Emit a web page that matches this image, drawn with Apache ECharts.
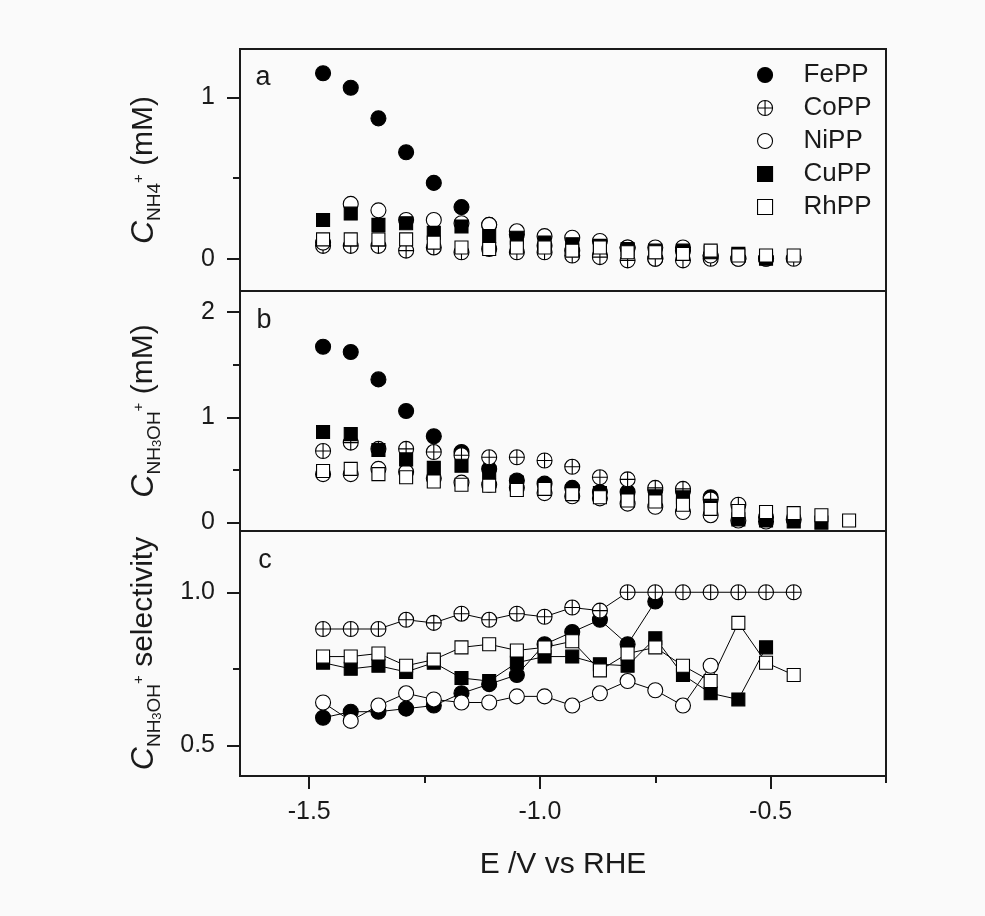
<!DOCTYPE html>
<html>
<head>
<meta charset="utf-8">
<title>NH4+ / NH3OH+ vs potential</title>
<script src="https://cdn.jsdelivr.net/npm/echarts@6/dist/echarts.min.js"></script>
<style>
  html, body { margin: 0; padding: 0; background: #fafafa; }
  #main { width: 985px; height: 916px; }
</style>
</head>
<body>
<div id="main"></div>
<script>
// potentials (V vs RHE), one value every 60 mV
var potential = [-1.47, -1.41, -1.35, -1.29, -1.23, -1.17, -1.11, -1.05, -0.99, -0.93,
                 -0.87, -0.81, -0.75, -0.69, -0.63, -0.57, -0.51, -0.45, -0.39, -0.33];
var catalysts = ['FePP', 'CoPP', 'NiPP', 'CuPP', 'RhPP'];

// panel a: C NH4+ (mM)
var feNH4 = [1.15, 1.06, 0.87, 0.66, 0.47, 0.32, 0.21, 0.15, 0.08, 0.05, 0.02, 0.07, 0.00, 0.05, 0.02];
var coNH4 = [0.08, 0.08, 0.08, 0.05, 0.07, 0.04, 0.06, 0.04, 0.04, 0.02, 0.01, -0.01, 0.00, -0.01, 0.00, 0.00, 0.00, 0.00];
var niNH4 = [0.10, 0.34, 0.30, 0.24, 0.24, 0.22, 0.21, 0.17, 0.14, 0.13, 0.11, 0.07, 0.07, 0.07, 0.02, 0.00, 0.00];
var cuNH4 = [0.24, 0.28, 0.21, 0.22, 0.16, 0.20, 0.14, 0.13, 0.10, 0.09, 0.08, 0.06, 0.05, 0.05, 0.04, 0.03, 0.00];
var rhNH4 = [0.12, 0.12, 0.12, 0.12, 0.10, 0.07, 0.06, 0.07, 0.07, 0.05, 0.07, 0.04, 0.04, 0.03, 0.05, 0.02, 0.02, 0.02];

// panel b: C NH3OH+ (mM)
var feNH3OH = [1.67, 1.62, 1.36, 1.06, 0.82, 0.67, 0.51, 0.40, 0.37, 0.33, 0.29, 0.29, 0.31, 0.30, 0.24];
var coNH3OH = [0.68, 0.76, 0.70, 0.70, 0.67, 0.64, 0.62, 0.62, 0.59, 0.53, 0.43, 0.41, 0.33, 0.32, 0.22, 0.17, 0.05, 0.03];
var niNH3OH = [0.46, 0.46, 0.51, 0.48, 0.42, 0.38, 0.36, 0.33, 0.28, 0.25, 0.23, 0.18, 0.15, 0.10, 0.07, 0.02, 0.01];
var cuNH3OH = [0.86, 0.84, 0.69, 0.60, 0.52, 0.54, 0.48, 0.38, 0.35, 0.30, 0.28, 0.25, 0.25, 0.24, 0.15, 0.03, 0.02, 0.01, 0.00];
var rhNH3OH = [0.49, 0.51, 0.46, 0.43, 0.39, 0.36, 0.35, 0.31, 0.32, 0.27, 0.24, 0.21, 0.20, 0.17, 0.13, 0.11, 0.10, 0.09, 0.07, 0.02];

// panel c: NH3OH+ selectivity
var feSel = [0.59, 0.61, 0.61, 0.62, 0.63, 0.67, 0.70, 0.73, 0.83, 0.87, 0.91, 0.83, 0.97];
var coSel = [0.88, 0.88, 0.88, 0.91, 0.90, 0.93, 0.91, 0.93, 0.92, 0.95, 0.94, 1.00, 1.00, 1.00, 1.00, 1.00, 1.00, 1.00];
var niSel = [0.64, 0.58, 0.63, 0.67, 0.65, 0.64, 0.64, 0.66, 0.66, 0.63, 0.67, 0.71, 0.68, 0.63, 0.76];
var cuSel = [0.77, 0.75, 0.76, 0.74, 0.77, 0.72, 0.71, 0.77, 0.79, 0.79, 0.765, 0.76, 0.85, 0.73, 0.67, 0.65, 0.82];
var rhSel = [0.79, 0.79, 0.80, 0.76, 0.78, 0.82, 0.83, 0.81, 0.82, 0.84, 0.745, 0.80, 0.82, 0.76, 0.71, 0.90, 0.77, 0.73];

// axis ticks
var xMajor = [-1.5, -1.0, -0.5];
var xMinor = [-1.25, -0.75, -0.25];
var yTicksA = [0, 1], yMinorA = [0.5];
var yTicksB = [0, 1, 2], yMinorB = [0.5, 1.5];
var yTicksC = [0.5, 1.0], yMinorC = [0.75];

var FONT = '"Liberation Sans", Arial, sans-serif';
var INK = '#1a1a1a';
var crossCircle = 'path://M0,-10A10,10,0,1,1,0,10A10,10,0,1,1,0,-10ZM-10,0L10,0M0,-10L0,10';

var markers = {
  FePP: { symbol: 'circle', size: 15, fill: '#000' },
  CoPP: { symbol: crossCircle, size: 15, fill: '#fff' },
  NiPP: { symbol: 'circle', size: 15, fill: '#fff' },
  CuPP: { symbol: 'rect', size: 13, fill: '#000' },
  RhPP: { symbol: 'rect', size: 13, fill: '#fff' }
};

var panels = [
  [feNH4, coNH4, niNH4, cuNH4, rhNH4],
  [feNH3OH, coNH3OH, niNH3OH, cuNH3OH, rhNH3OH],
  [feSel, coSel, niSel, cuSel, rhSel]
];

function pairs(ys) {
  return ys.map(function (v, i) { return [potential[i], v]; });
}

var series = [];
panels.forEach(function (panel, p) {
  panel.forEach(function (ys, k) {
    var name = catalysts[k];
    var m = markers[name];
    series.push({
      name: name,
      type: p === 2 ? 'line' : 'scatter',
      xAxisIndex: p,
      yAxisIndex: p * 2,
      data: pairs(ys),
      symbol: m.symbol,
      symbolSize: m.size,
      showSymbol: true,
      itemStyle: { color: m.fill, borderColor: '#000', borderWidth: 1.1, opacity: 1 },
      lineStyle: { color: '#000', width: 1 },
      emphasis: { disabled: true }
    });
  });
});

var lineStyle = { color: INK, width: 2 };
var labelStyle = { fontFamily: FONT, fontSize: 25, color: INK };

function hiddenX(grid) {
  return {
    gridIndex: grid, type: 'value', min: -1.65, max: -0.25,
    axisLine: { show: false }, axisTick: { show: false },
    axisLabel: { show: false }, splitLine: { show: false }
  };
}

function yMain(grid, min, max, ticks, fmt, name) {
  return {
    gridIndex: grid, type: 'value', min: min, max: max,
    axisLine: { show: true, lineStyle: lineStyle },
    axisTick: { show: true, customValues: ticks, length: 13, lineStyle: lineStyle },
    axisLabel: Object.assign({ customValues: ticks, margin: 25, formatter: fmt }, labelStyle),
    splitLine: { show: false },
    name: name, nameLocation: 'middle', nameRotate: 90, nameGap: 76,
    nameTextStyle: {
      fontFamily: FONT, fontSize: 30, color: INK, lineHeight: 40,
      rich: {
        c: { fontFamily: FONT, fontSize: 32, fontStyle: 'italic', color: INK, lineHeight: 40 },
        s: { fontFamily: FONT, fontSize: 19, color: INK, lineHeight: 26, verticalAlign: 'bottom' },
        ss: { fontFamily: FONT, fontSize: 13, color: INK, lineHeight: 15, verticalAlign: 'bottom' },
        p: { fontFamily: FONT, fontSize: 15, color: INK, lineHeight: 28, verticalAlign: 'top', padding: [7, 0, 0, 0] }
      }
    }
  };
}

function yMinor(grid, min, max, ticks) {
  return {
    gridIndex: grid, type: 'value', min: min, max: max, position: 'left',
    axisLine: { show: false },
    axisTick: { show: true, customValues: ticks, length: 7, lineStyle: lineStyle },
    axisLabel: { show: false }, splitLine: { show: false }
  };
}

var intFmt = function (v) { return String(Math.round(v)); };
var oneDec = function (v) { return v.toFixed(1); };

var grids = [
  { left: 240, right: 99, top: 49, height: 242 },
  { left: 240, right: 99, top: 291, height: 240 },
  { left: 240, right: 99, top: 531, height: 245 }
].map(function (g) {
  return Object.assign({ show: true, borderColor: INK, borderWidth: 2, backgroundColor: 'transparent' }, g);
});

var chart = echarts.init(document.getElementById('main'), null, { renderer: 'canvas' });
var option = {
  backgroundColor: '#fafafa',
  animation: false,
  grid: grids,
  legend: {
    data: catalysts,
    orient: 'vertical',
    left: 752, top: 57,
    itemWidth: 15, itemHeight: 15, itemGap: 7,
    selectedMode: false,
    itemStyle: { borderWidth: 1.1, borderColor: '#000' },
    textStyle: { fontFamily: FONT, fontSize: 26, color: INK, padding: [0, 0, 0, 26] }
  },
  xAxis: [
    hiddenX(0),
    hiddenX(1),
    {
      gridIndex: 2, type: 'value', min: -1.65, max: -0.25,
      axisLine: { show: true, lineStyle: lineStyle },
      axisTick: { show: true, customValues: xMajor, length: 13, lineStyle: lineStyle },
      axisLabel: Object.assign({ customValues: xMajor, margin: 24, formatter: oneDec }, labelStyle),
      splitLine: { show: false },
      name: 'E /V vs RHE', nameLocation: 'middle', nameGap: 74,
      nameTextStyle: { fontFamily: FONT, fontSize: 30, color: INK }
    },
    {
      gridIndex: 2, type: 'value', min: -1.65, max: -0.25, position: 'bottom',
      axisLine: { show: false },
      axisTick: { show: true, customValues: xMinor, length: 7, lineStyle: lineStyle },
      axisLabel: { show: false }, splitLine: { show: false }
    }
  ],
  yAxis: [
    yMain(0, -0.2, 1.3, yTicksA, intFmt, '{c|C}{s|NH4}{p|+} (mM)'),
    yMinor(0, -0.2, 1.3, yMinorA),
    yMain(1, -0.08, 2.2, yTicksB, intFmt, '{c|C}{s|NH}{ss|3}{s|OH}{p|+} (mM)'),
    yMinor(1, -0.08, 2.2, yMinorB),
    yMain(2, 0.4, 1.2, yTicksC, oneDec, '{c|C}{s|NH}{ss|3}{s|OH}{p|+} selectivity'),
    yMinor(2, 0.4, 1.2, yMinorC)
  ],
  graphic: [
    { type: 'text', x: 263, y: 78, style: { text: 'a', fontFamily: FONT, fontSize: 27, fill: INK, align: 'center', verticalAlign: 'middle' } },
    { type: 'text', x: 264, y: 321, style: { text: 'b', fontFamily: FONT, fontSize: 27, fill: INK, align: 'center', verticalAlign: 'middle' } },
    { type: 'text', x: 265, y: 561, style: { text: 'c', fontFamily: FONT, fontSize: 27, fill: INK, align: 'center', verticalAlign: 'middle' } }
  ],
  series: series
};

chart.setOption(option);
</script>
</body>
</html>
